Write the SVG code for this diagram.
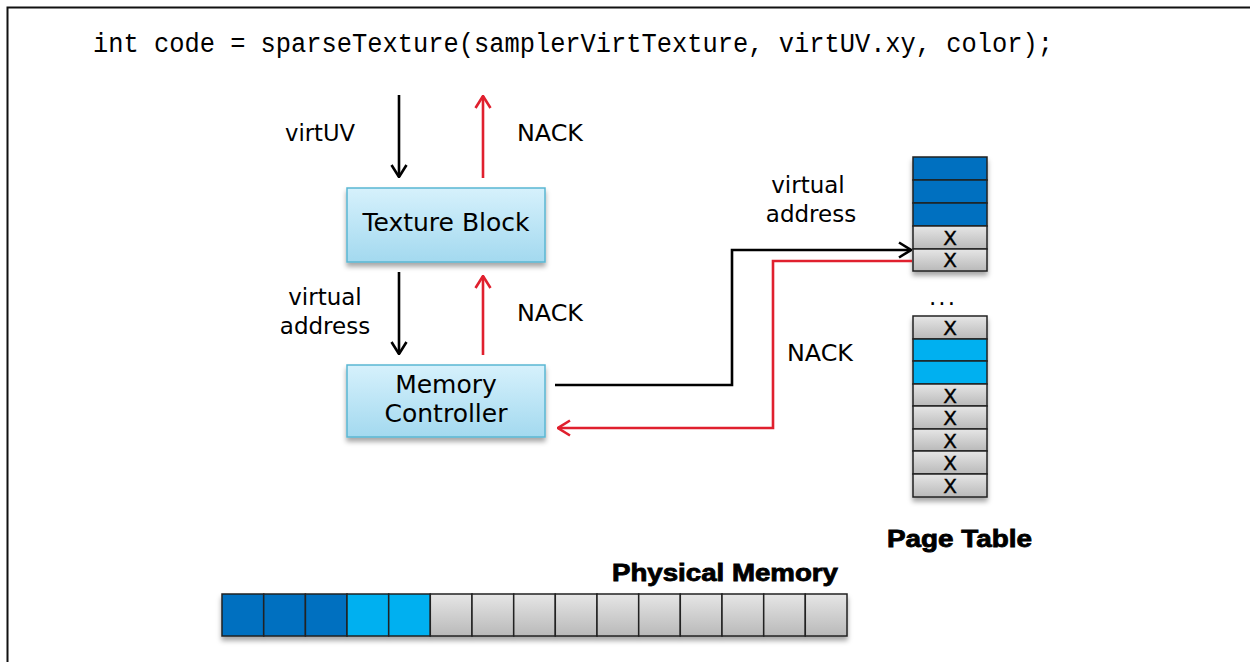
<svg xmlns="http://www.w3.org/2000/svg" width="1250" height="662" viewBox="0 0 1250 662">
<defs>
<linearGradient id="boxg" x1="0" y1="0" x2="0" y2="1"><stop offset="0" stop-color="#d6f1fc"/><stop offset="1" stop-color="#a3d9ef"/></linearGradient>
<linearGradient id="grayg" x1="0" y1="0" x2="0" y2="1"><stop offset="0" stop-color="#e6e6e6"/><stop offset="1" stop-color="#b9b9b9"/></linearGradient>
<filter id="sh" x="-10%" y="-10%" width="120%" height="140%"><feDropShadow dx="0" dy="4" stdDeviation="2.5" flood-color="#000" flood-opacity="0.35"/></filter>
<marker id="ahk" viewBox="0 0 14 18" refX="13" refY="9" markerWidth="14" markerHeight="18" markerUnits="userSpaceOnUse" orient="auto"><path d="M1,1.5 L13,9 L1,16.5" fill="none" stroke="#000" stroke-width="2.6"/></marker>
<marker id="ahr" viewBox="0 0 14 18" refX="13" refY="9" markerWidth="14" markerHeight="18" markerUnits="userSpaceOnUse" orient="auto"><path d="M1,1.5 L13,9 L1,16.5" fill="none" stroke="#e0202e" stroke-width="2.6"/></marker>
</defs>
<style>
.lbl{font-family:"DejaVu Sans",sans-serif;font-size:23px;fill:#000}
.blk{font-family:"DejaVu Sans",sans-serif;font-size:25px;fill:#000;text-anchor:middle}
.bold{font-family:"Liberation Sans",Arial,sans-serif;font-weight:bold;font-size:23px;fill:#000;stroke:#000;stroke-width:0.8}
.code{font-family:"Liberation Mono",monospace;font-size:27px;fill:#000}
.box{fill:url(#boxg);stroke:#5ab6d2;stroke-width:1.5}
.dk{fill:#0070c0;stroke:#222;stroke-width:1.5}
.lt{fill:#00b0f0;stroke:#222;stroke-width:1.5}
.gr{fill:url(#grayg);stroke:#222;stroke-width:1.5}
.x{font-family:"DejaVu Sans",sans-serif;font-size:20px;fill:#000;text-anchor:middle;stroke:#000;stroke-width:0.4}
.bk{fill:none;stroke:#000;stroke-width:2.6}
.rd{fill:none;stroke:#e0202e;stroke-width:2.6}
</style>
<rect width="1250" height="662" fill="#fff"/>
<g id="frame"><path d="M7.5,662 V7.5 H1250" fill="none" stroke="#111" stroke-width="2"/></g>
<g id="code"><text class="code" x="93" y="52" textLength="960" lengthAdjust="spacingAndGlyphs">int code = sparseTexture(samplerVirtTexture, virtUV.xy, color);</text></g>

<g id="texture-block"><rect class="box" x="347" y="188" width="198" height="74" filter="url(#sh)"/><text class="blk" x="446" y="231">Texture Block</text></g>
<g id="memory-controller"><rect class="box" x="347" y="365" width="198" height="72" filter="url(#sh)"/><text class="blk" x="446" y="393">Memory</text><text class="blk" x="446" y="422">Controller</text></g>

<g id="page-table-top" filter="url(#sh)">
<rect class="dk" x="913" y="157" width="74" height="23"/>
<rect class="dk" x="913" y="180" width="74" height="23"/>
<rect class="dk" x="913" y="203" width="74" height="23"/>
<rect class="gr" x="913" y="226" width="74" height="23"/>
<rect class="gr" x="913" y="249" width="74" height="22"/>
</g>
<g id="page-table-top-x"><text class="x" x="950" y="245">X</text><text class="x" x="950" y="267">X</text></g>
<g id="dots"><text class="lbl" x="943" y="305" text-anchor="middle" letter-spacing="2">...</text></g>
<g id="page-table-bottom" filter="url(#sh)">
<rect class="gr" x="913" y="316" width="74" height="23"/>
<rect class="lt" x="913" y="339" width="74" height="22"/>
<rect class="lt" x="913" y="361" width="74" height="23"/>
<rect class="gr" x="913" y="384" width="74" height="22"/>
<rect class="gr" x="913" y="406" width="74" height="23"/>
<rect class="gr" x="913" y="429" width="74" height="22"/>
<rect class="gr" x="913" y="451" width="74" height="23"/>
<rect class="gr" x="913" y="474" width="74" height="23"/>
</g>
<g id="page-table-bottom-x"><text class="x" x="950" y="335">X</text><text class="x" x="950" y="403">X</text><text class="x" x="950" y="425">X</text><text class="x" x="950" y="448">X</text><text class="x" x="950" y="470">X</text><text class="x" x="950" y="493">X</text></g>
<g id="page-table-label"><text class="bold" x="959.5" y="547" text-anchor="middle" textLength="145" lengthAdjust="spacingAndGlyphs">Page Table</text></g>

<g id="physical-memory" filter="url(#sh)">
<rect class="dk" x="222" y="594" width="41.7" height="42"/>
<rect class="dk" x="263.7" y="594" width="41.7" height="42"/>
<rect class="dk" x="305.4" y="594" width="41.6" height="42"/>
<rect class="lt" x="347" y="594" width="41.7" height="42"/>
<rect class="lt" x="388.7" y="594" width="41.6" height="42"/>
<rect class="gr" x="430.3" y="594" width="41.7" height="42"/>
<rect class="gr" x="472" y="594" width="41.7" height="42"/>
<rect class="gr" x="513.7" y="594" width="41.6" height="42"/>
<rect class="gr" x="555.3" y="594" width="41.7" height="42"/>
<rect class="gr" x="597" y="594" width="41.7" height="42"/>
<rect class="gr" x="638.7" y="594" width="41.6" height="42"/>
<rect class="gr" x="680.3" y="594" width="41.7" height="42"/>
<rect class="gr" x="722" y="594" width="41.7" height="42"/>
<rect class="gr" x="763.7" y="594" width="41.6" height="42"/>
<rect class="gr" x="805.3" y="594" width="41.7" height="42"/>
</g>
<g id="physical-memory-label"><text class="bold" x="725" y="581" text-anchor="middle" textLength="226" lengthAdjust="spacingAndGlyphs">Physical Memory</text></g>

<g id="connectors">
<line class="bk" x1="399" y1="95" x2="399" y2="177" marker-end="url(#ahk)"/>
<line class="rd" x1="483" y1="178" x2="483" y2="96" marker-end="url(#ahr)"/>
<line class="bk" x1="399" y1="272" x2="399" y2="354" marker-end="url(#ahk)"/>
<line class="rd" x1="483" y1="355" x2="483" y2="276" marker-end="url(#ahr)"/>
<path class="bk" d="M555,385 H732 V250 H911" marker-end="url(#ahk)"/>
<path class="rd" d="M912,261 H773 V428 H558" marker-end="url(#ahr)"/>
</g>
<g id="labels">
<text class="lbl" x="285" y="141" textLength="70" lengthAdjust="spacingAndGlyphs">virtUV</text>
<text class="lbl" x="517" y="141" textLength="66" lengthAdjust="spacingAndGlyphs">NACK</text>
<text class="lbl" x="325" y="305" text-anchor="middle">virtual</text>
<text class="lbl" x="325" y="334" text-anchor="middle">address</text>
<text class="lbl" x="517" y="321" textLength="66" lengthAdjust="spacingAndGlyphs">NACK</text>
<text class="lbl" x="808" y="193" text-anchor="middle">virtual</text>
<text class="lbl" x="811" y="222" text-anchor="middle">address</text>
<text class="lbl" x="787" y="361" textLength="66" lengthAdjust="spacingAndGlyphs">NACK</text>
</g>
</svg>
